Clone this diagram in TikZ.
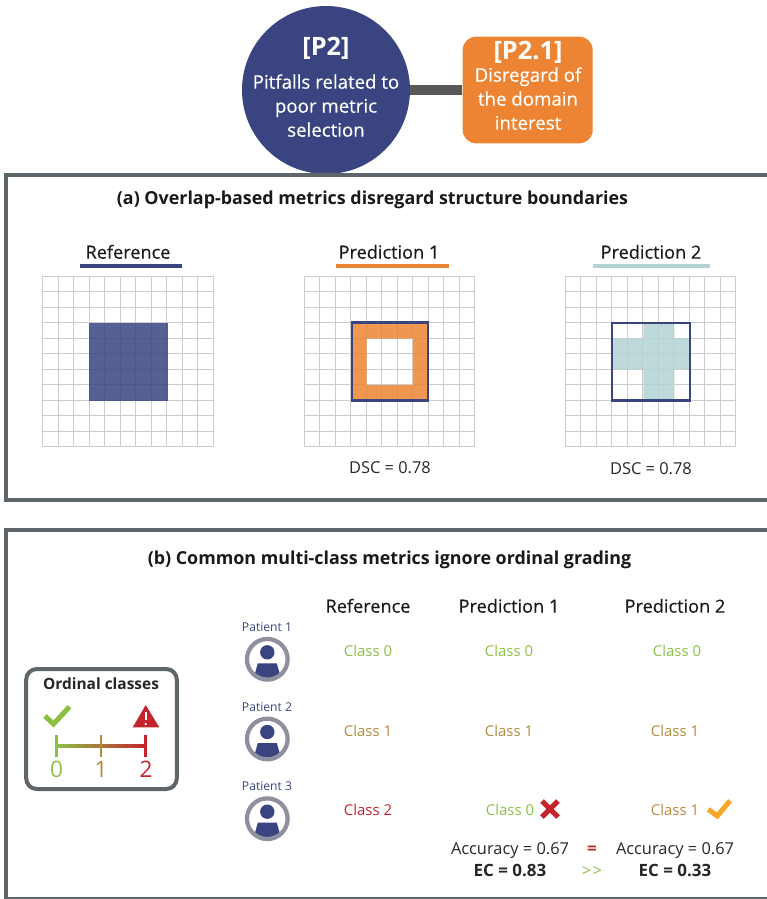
\documentclass[tikz,border=0pt]{standalone}
\usepackage{fontspec}
\setmainfont{Open Sans}
\newfontface\semib[FakeBold=0.35]{Open Sans}
\definecolor{navy}{HTML}{3A4480}
\definecolor{peach}{HTML}{EC8433}
\definecolor{teal2}{HTML}{B2D2D3}
\definecolor{slate}{HTML}{5F6669}
\definecolor{okgreen}{HTML}{8CC044}
\definecolor{midbrown}{HTML}{B58B3E}
\definecolor{alarmred}{HTML}{C5242D}
\definecolor{amber}{HTML}{F9A72B}
\tikzset{%
  frameline/.style = {draw=slate, line width=3pt},
  gridline/.style  = {draw=black!20, line width=0.5pt},
  outline/.style   = {draw=navy, line width=1.6pt},
  uline/.style     = {line width=2.6pt},
  tick/.style      = {line width=2pt},
  tickmark/.style  = {line width=3.8pt},
  fixh/.style      = {inner sep=0pt, text height=10pt, text depth=0pt},
  txt/.style       = {fixh, text=black!85, font=\fontsize{12.3}{14}\selectfont},
  bld/.style       = {fixh, text=black!85, font=\bfseries\fontsize{12.7}{14}\selectfont},
  white12/.style   = {fixh, text=white, font=\semib\fontsize{14}{15}\selectfont},
  whiteid/.style   = {fixh, text=white, font=\bfseries\fontsize{19}{18}\selectfont},
  head/.style      = {fixh, text=black!90, font=\semib\fontsize{13.6}{15}\selectfont},
  ttl/.style       = {fixh, text=black!90, font=\bfseries\fontsize{13.4}{15}\selectfont},
  cls/.style       = {fixh, font=\fontsize{11.2}{14}\selectfont},
  pat/.style       = {fixh, text=navy, font=\fontsize{9.1}{9}\selectfont},
  num/.style       = {fixh, font=\fontsize{17}{18}\selectfont}
}
% patient icon: name, y position
\newcommand{\patient}[2]{%
  \begin{scope}[shift={(267.3,#2)}]
    \begin{scope}
      \clip (0,0) circle (19);
      \fill[navy] (-9.5,4) -- (9.5,4) -- (14,20) -- (-14,20) -- cycle;
    \end{scope}
    \fill[navy] (0,-7) circle (7.2);
    \node[circle, draw=black!50!navy!50, line width=3.2pt, minimum size=30.5pt, inner sep=0pt] (#1) at (0,0) {};
  \end{scope}}
\begin{document}
\begin{tikzpicture}[x=0.75pt, y=-0.75pt]
\useasboundingbox (0,0) rectangle (767,899);
\clip (0,0) rectangle (767,899);
	% Top circle and box
\draw
	node at (326,90) [circle, fill=navy, minimum size=126pt, inner sep=0pt] (p2) {}
	node at (527.7,90) [rectangle, rounded corners=10pt, fill=peach, minimum width=97.5pt, minimum height=80pt, inner sep=0pt] (p21) {};
	\draw[line width=8pt, color=black!65] (p2) -- (p21);
\draw
	node at (326,49) [whiteid] (p2id) {[P2]}
	node at (326,82) [white12] (p2a) {Pitfalls related to}
	node at (326,106) [white12] (p2b) {poor metric}
	node at (326,130) [white12] (p2c) {selection}
	node at (528,53) [whiteid] (p21id) {[P2.1]}
	node at (528,75) [white12] (p21a) {Disregard of}
	node at (528,99) [white12] (p21b) {the domain}
	node at (528,123) [white12] (p21c) {interest};
	% Panel frames
	\draw[frameline] (767,175) -- (6,175) -- (6,500) -- (767,500);
	\draw[frameline] (767,530) -- (6,530) -- (6,898.5) -- (767,898.5);
	% Panel (a)
\draw
	node at (372.5,198) [ttl] (titlea) {(a) Overlap-based metrics disregard structure boundaries}
	node at (128,252) [head] (refa) {Reference}
	node at (389,252) [head] (preda1) {Prediction 1}
	node at (651,252) [head] (preda2) {Prediction 2}
	node at (390,467) [txt] (dsc1) {DSC = 0.78}
	node at (651,468) [txt] (dsc2) {DSC = 0.78};
	\draw[uline, color=navy] (80,266) -- (182,266);
	\draw[uline, color=peach] (336,266) -- (449,266);
	\draw[uline, color=teal2] (593,266) -- (710,266);
	% Grids
	\draw[gridline, shift={(42.5,446.5)}, y=0.75pt, step=15.5] (0,0) grid (170.6,170.6);
	\draw[gridline, shift={(304.3,446.5)}, y=0.75pt, step=15.5] (0,0) grid (170.6,170.6);
	\draw[gridline, shift={(565.3,446.5)}, y=0.75pt, step=15.5] (0,0) grid (170.6,170.6);
	% Segmentations
	\fill[navy, opacity=0.85] (89,322.5) rectangle (167.5,401);
	\fill[peach, opacity=0.85, even odd rule] (351.7,322.5) rectangle (428,400.5) (366.7,338.5) rectangle (413,385);
	\draw[outline] (351.7,322.5) rectangle (428,400.5);
	\fill[teal2, opacity=0.85] (643.3,323) -- (674.3,323) -- (674.3,338.3) -- (690,338.3) -- (690,369.7) -- (674.3,369.7)
		-- (674.3,400.5) -- (643.3,400.5) -- (643.3,369.7) -- (612,369.7) -- (612,338.3) -- (643.3,338.3) -- cycle;
	\draw[outline] (612,323) rectangle (690,400.5);
	% Panel (b)
\draw
	node at (389.5,558) [ttl] (titleb) {(b) Common multi-class metrics ignore ordinal grading}
	node at (368,606) [head] (refb) {Reference}
	node at (509,606) [head] (predb1) {Prediction 1}
	node at (675,606) [head] (predb2) {Prediction 2}
	% Patients
	node at (267,624.5) [pat] (lab1) {Patient 1}
	node at (267,704.5) [pat] (lab2) {Patient 2}
	node at (267,783.5) [pat] (lab3) {Patient 3}
	% Classes
	node at (368,650) [cls, text=okgreen] (c11) {Class 0}
	node at (509,650) [cls, text=okgreen] (c12) {Class 0}
	node at (677,650) [cls, text=okgreen] (c13) {Class 0}
	node at (368,730) [cls, text=midbrown] (c21) {Class 1}
	node at (509,730) [cls, text=midbrown] (c22) {Class 1}
	node at (675,730) [cls, text=midbrown] (c23) {Class 1}
	node at (368,809) [cls, text=alarmred] (c31) {Class 2}
	node at (510,809) [cls, text=okgreen] (c32) {Class 0}
	node at (675,809) [cls, text=midbrown] (c33) {Class 1}
	% Scores
	node at (510,848) [txt] (acc1) {Accuracy = 0.67}
	node at (675,848) [txt] (acc2) {Accuracy = 0.67}
	node at (510,870) [bld] (ec1) {EC = 0.83}
	node at (675,870) [bld] (ec2) {EC = 0.33}
	node at (592,848) [bld, text=alarmred] (same) {=}
	node at (592,870) [txt, text=okgreen] (much) {{>}\kern1pt{>}};
	\patient{pat1}{659.3}
	\patient{pat2}{739}
	\patient{pat3}{818.7}
	% Wrong and right marks
	\draw[tickmark, color=alarmred] (542,801) -- (558,817);
	\draw[tickmark, color=alarmred] (558,801) -- (542,817);
	\draw[tickmark, color=amber] (708.3,809.3) -- (717.3,816) -- (730,800.7);
	% Ordinal classes box
\draw
	node at (101.5,729) [rectangle, draw=slate, line width=3pt, rounded corners=8pt, minimum width=113pt, minimum height=90pt, inner sep=0pt] (ordbox) {}
	node at (101,683) [fixh, text=black!85, font=\bfseries\fontsize{11.6}{14}\selectfont] (ordttl) {Ordinal classes}
	node at (56.7,771.3) [num, text=okgreen] (n0) {0}
	node at (101,771.3) [num, text=midbrown] (n1) {1}
	node at (146,771.3) [num, text=alarmred] (n2) {2};
	\shade[left color=okgreen, middle color=midbrown, right color=alarmred] (56.7,744.5) rectangle (145.7,747);
	\draw[tick, color=okgreen] (56.7,735) -- (56.7,757);
	\draw[tick, color=midbrown] (101,735) -- (101,757);
	\draw[tick, color=alarmred] (145.7,735) -- (145.7,757);
	\draw[tickmark, color=okgreen] (45,716) -- (53.5,724) -- (69.5,706.7);
	\fill[alarmred] (145.7,705) -- (159.3,727.3) -- (132.7,727.3) -- cycle;
	\draw[line width=1.7pt, color=white] (145.7,712) -- (145.7,720);
	\fill[white] (145.7,724) circle (1.3);
\end{tikzpicture}
\end{document}
